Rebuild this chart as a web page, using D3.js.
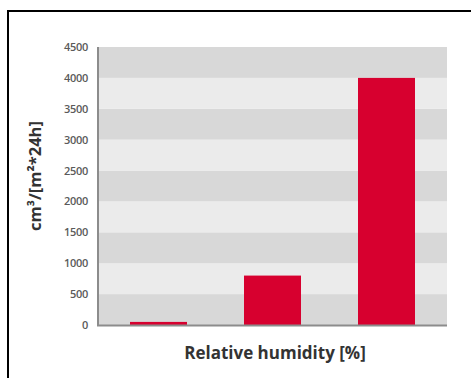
<!DOCTYPE html>
<html>
<head>
<meta charset="utf-8">
<script src="https://cdn.jsdelivr.net/npm/d3@7"></script>
<style>
  html, body { margin: 0; padding: 0; background: #fff; }
  svg { display: block; }
</style>
</head>
<body>
<svg id="chart" width="471" height="378"></svg>
<script>
// Humidity levels (not labelled on the axis) and measured values
const categories = ["low", "medium", "high"];
const values = [50, 800, 4000];
const yTicks = [0, 500, 1000, 1500, 2000, 2500, 3000, 3500, 4000, 4500];
const yLabel = "cm³/[m²*24h]";
const xLabel = "Relative humidity [%]";

const svg = d3.select("#chart");
const W = 471, H = 378;

// outer frame (open at the right and bottom)
svg.append("rect")
  .attr("x", 8).attr("y", 11)
  .attr("width", W + 10).attr("height", H + 10)
  .attr("fill", "#fff").attr("stroke", "#000").attr("stroke-width", 2);

const plot = { left: 98, right: 447, top: 47, bottom: 325 };

const y = d3.scaleLinear().domain([0, 4500]).range([plot.bottom, plot.top]);
const x = d3.scaleBand().domain(categories)
  .range([101.5, 443.5]).paddingInner(0.5).paddingOuter(0.25);

// alternating horizontal bands
const bands = yTicks.slice(0, -1).map((t, i) => ({ lo: t, hi: yTicks[i + 1], i }));
svg.append("g").selectAll("rect").data(bands).join("rect")
  .attr("x", plot.left).attr("width", plot.right - plot.left)
  .attr("y", d => y(d.hi)).attr("height", d => y(d.lo) - y(d.hi))
  .attr("fill", d => d.i % 2 === 0 ? "#d8d8d8" : "#ebebeb");

// bars
svg.append("g").selectAll("rect").data(categories).join("rect")
  .attr("x", d => x(d)).attr("width", x.bandwidth())
  .attr("y", (d, i) => y(values[i]))
  .attr("height", (d, i) => y(0) - y(values[i]))
  .attr("fill", "#d7002f");

// y axis
const yAxis = svg.append("g")
  .attr("transform", `translate(${plot.left},0)`)
  .call(d3.axisLeft(y).tickValues(yTicks).tickSize(0).tickPadding(10).tickFormat(d3.format("d")));
yAxis.select(".domain").remove();
yAxis.selectAll("text")
  .attr("fill", "#5a5a5a")
  .style("font-family", "'Open Sans', sans-serif")
  .style("font-size", "11px")
  .style("font-weight", "600")
  .style("letter-spacing", "-0.3px");

// x axis (no tick labels)
const xAxis = svg.append("g")
  .attr("transform", `translate(0,${plot.bottom})`)
  .call(d3.axisBottom(x).tickSize(0).tickFormat(""));
xAxis.select(".domain").remove();

// axis lines
svg.append("line")
  .attr("x1", plot.left).attr("x2", plot.left)
  .attr("y1", plot.top).attr("y2", plot.bottom + 1)
  .attr("stroke", "#8c8c8c").attr("stroke-width", 2);
svg.append("line")
  .attr("x1", plot.left - 1).attr("x2", plot.right)
  .attr("y1", plot.bottom + 0.5).attr("y2", plot.bottom + 0.5)
  .attr("stroke", "#8c8c8c").attr("stroke-width", 2);

// axis titles
svg.append("text")
  .attr("transform", `translate(41,${(plot.top + plot.bottom) / 2 - 10}) rotate(-90)`)
  .attr("text-anchor", "middle")
  .attr("fill", "#333")
  .style("font-family", "'Open Sans', sans-serif")
  .style("font-size", "16.5px")
  .style("font-weight", "bold")
  .text(yLabel);

svg.append("text")
  .attr("x", 275).attr("y", 359)
  .attr("text-anchor", "middle")
  .attr("fill", "#333")
  .style("font-family", "'Open Sans', sans-serif")
  .style("font-size", "17px")
  .style("font-weight", "bold")
  .text(xLabel);
</script>
</body>
</html>
